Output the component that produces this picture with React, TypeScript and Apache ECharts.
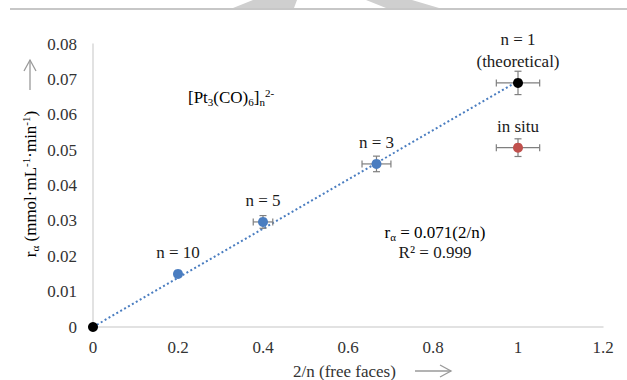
import React, { useEffect, useRef } from "react";
import * as echarts from "echarts";

const xTicks = { min: 0, max: 1.2, interval: 0.2 };
const yTicks = { min: 0, max: 0.08, interval: 0.01 };

const blueX = [0.2, 0.4, 0.667];
const blueY = [0.015, 0.0297, 0.0461];
const blueXErr = [0, 0.023, 0.034];
const blueYErr = [0, 0.0018, 0.0022];
const blueLabels = ["n = 10", "n = 5", "n = 3"];

const blackX = [0, 1];
const blackY = [0, 0.069];
const blackXErr = [0, 0.051];
const blackYErr = [0, 0.0033];
const blackLabels = ["", "n = 1\n(theoretical)"];

const redX = [1];
const redY = [0.0507];
const redXErr = [0.051];
const redYErr = [0.0025];
const redLabels = ["in situ"];

const trendX = [0, 1];
const trendY = [0, 0.0695];

const FONT = "Liberation Serif";
const BLUE = "#4a7dc0";
const RED = "#c0504d";
const GREY_ARROW = "#9a9a9a";
const TXT = "#1a1a1a";

export default function App() {
  const ref = useRef<HTMLDivElement>(null);
  useEffect(() => {
    if (!ref.current) return;
    const chart = echarts.init(ref.current, undefined, { renderer: "svg" });

    const errRows: number[][] = [];
    blueX.forEach((x, i) => errRows.push([x, blueY[i], blueXErr[i], blueYErr[i]]));
    blackX.forEach((x, i) => errRows.push([x, blackY[i], blackXErr[i], blackYErr[i]]));
    redX.forEach((x, i) => errRows.push([x, redY[i], redXErr[i], redYErr[i]]));

    const tStyle = { fontFamily: FONT, fontSize: 17, lineHeight: 22, color: TXT };
    const labelStyle = {
      show: true,
      position: "top",
      distance: 5,
      fontFamily: FONT,
      fontSize: 17,
      lineHeight: 22,
      color: TXT,
      rich: { t: tStyle },
    };

    const mk = (xs: number[], ys: number[], labels: string[]) =>
      xs.map((x, i) => ({
        value: [x, ys[i]],
        label: {
          ...labelStyle,
          show: !!labels[i],
          formatter: (labels[i] || "").split("\n").map((s) => "{t|" + s + "}").join("\n"),
        },
      }));

    const sub = { fontFamily: FONT, fontSize: 11, lineHeight: 10, verticalAlign: "bottom", color: TXT };
    const sup = { fontFamily: FONT, fontSize: 11, lineHeight: 10, verticalAlign: "top", color: TXT };
    const main = { fontFamily: FONT, fontSize: 17, lineHeight: 20, color: TXT };

    const scatterBase = {
      type: "scatter",
      symbolSize: 10,
      z: 3,
      emphasis: { disabled: true },
      label: labelStyle,
    };

    const option: any = {
      animation: false,
      textStyle: { fontFamily: FONT },
      grid: { left: 93, right: 24, top: 44, bottom: 53 },
      xAxis: {
        type: "value",
        min: xTicks.min,
        max: xTicks.max,
        interval: xTicks.interval,
        splitLine: { show: false },
        axisTick: { show: false },
        axisLine: { show: true, lineStyle: { color: "#d9d9d9", width: 1.5 } },
        axisLabel: { fontFamily: FONT, fontSize: 17, color: "#333", margin: 12 },
      },
      yAxis: {
        type: "value",
        min: yTicks.min,
        max: yTicks.max,
        interval: yTicks.interval,
        splitLine: { show: false },
        axisTick: { show: false },
        axisLine: { show: true, lineStyle: { color: "#d9d9d9", width: 1.5 } },
        axisLabel: { fontFamily: FONT, fontSize: 17, color: "#333", margin: 16 },
      },
      series: [
        {
          type: "line",
          data: trendX.map((x, i) => [x, trendY[i]]),
          symbol: "none",
          lineStyle: { color: BLUE, width: 2, type: [2, 2.5] },
          z: 1,
        },
        {
          type: "custom",
          data: errRows,
          encode: { x: 0, y: 1 },
          z: 2,
          renderItem: (params: any, api: any) => {
            const x = api.value(0), y = api.value(1), ex = api.value(2), ey = api.value(3);
            const children: any[] = [];
            const st = { stroke: "#7f7f7f", lineWidth: 1.2 };
            const cap = 3.5;
            if (ex > 0) {
              const l = api.coord([x - ex, y]);
              const r = api.coord([x + ex, y]);
              children.push({ type: "line", shape: { x1: l[0], y1: l[1], x2: r[0], y2: r[1] }, style: st });
              children.push({ type: "line", shape: { x1: l[0], y1: l[1] - cap, x2: l[0], y2: l[1] + cap }, style: st });
              children.push({ type: "line", shape: { x1: r[0], y1: r[1] - cap, x2: r[0], y2: r[1] + cap }, style: st });
            }
            if (ey > 0) {
              const t = api.coord([x, y + ey]);
              const b = api.coord([x, y - ey]);
              children.push({ type: "line", shape: { x1: t[0], y1: t[1], x2: b[0], y2: b[1] }, style: st });
              children.push({ type: "line", shape: { x1: t[0] - cap, y1: t[1], x2: t[0] + cap, y2: t[1] }, style: st });
              children.push({ type: "line", shape: { x1: b[0] - cap, y1: b[1], x2: b[0] + cap, y2: b[1] }, style: st });
            }
            return { type: "group", children };
          },
        },
        { ...scatterBase, data: mk(blueX, blueY, blueLabels), itemStyle: { color: BLUE, opacity: 1 } },
        { ...scatterBase, data: mk(blackX, blackY, blackLabels), itemStyle: { color: "#000", opacity: 1 } },
        { ...scatterBase, data: mk(redX, redY, redLabels), itemStyle: { color: RED, opacity: 1 } },
      ],
      graphic: [
        { type: "line", shape: { x1: 10, y1: 9, x2: 627, y2: 9 }, style: { stroke: "#b4b4b4", lineWidth: 1.5 }, z: 1 },
        {
          type: "polygon",
          shape: { points: [[253, 0], [297, 0], [294, 8], [233, 8]] },
          style: { fill: "#cfcfcf" },
          z: 0,
        },
        {
          type: "polygon",
          shape: { points: [[366, 0], [412, 0], [439, 8], [386, 8]] },
          style: { fill: "#cfcfcf" },
          z: 0,
        },
        {
          type: "text",
          x: 188,
          y: 97,
          style: {
            text: "{m|[Pt}{s|3}{m|(CO)}{s|6}{m|]}{s|n}{p|2-}",
            rich: { m: main, s: sub, p: sup },
            verticalAlign: "middle",
            align: "left",
          },
        },
        {
          type: "text",
          x: 435,
          y: 232,
          style: {
            text: "{m|r}{s|α}{m| = 0.071(2/n)}",
            rich: { m: main, s: sub },
            verticalAlign: "middle",
            align: "center",
          },
        },
        {
          type: "text",
          x: 435,
          y: 252,
          style: {
            text: "R² = 0.999",
            fontFamily: FONT,
            fontSize: 17,
            fill: TXT,
            verticalAlign: "middle",
            align: "center",
          },
        },
        {
          type: "text",
          x: 293,
          y: 371,
          style: {
            text: "2/n (free faces)",
            fontFamily: FONT,
            fontSize: 17,
            fill: "#333",
            verticalAlign: "middle",
            align: "left",
          },
        },
        { type: "line", shape: { x1: 415, y1: 371, x2: 451, y2: 371 }, style: { stroke: GREY_ARROW, lineWidth: 1.3 } },
        {
          type: "polyline",
          shape: { points: [[440, 365], [451, 371], [440, 377]] },
          style: { stroke: GREY_ARROW, lineWidth: 1.3, fill: "none" },
        },
        {
          type: "text",
          x: 30,
          y: 184,
          rotation: Math.PI / 2,
          style: {
            text: "{m|r}{s|α}{m| (mmol·mL}{p|-1}{m|·min}{p|-1}{m|)}",
            rich: { m: { ...main, color: "#333" }, s: sub, p: sup },
            verticalAlign: "middle",
            align: "center",
          },
        },
        { type: "line", shape: { x1: 30, y1: 90, x2: 30, y2: 60 }, style: { stroke: GREY_ARROW, lineWidth: 1.3 } },
        {
          type: "polyline",
          shape: { points: [[24, 71], [30, 60], [36, 71]] },
          style: { stroke: GREY_ARROW, lineWidth: 1.3, fill: "none" },
        },
      ],
    };
    chart.setOption(option);
    return () => chart.dispose();
  }, []);
  return (
    <div
      ref={ref}
      style={{ position: "fixed", left: 0, top: 0, width: 627, height: 380, background: "#fff" }}
    />
  );
}
